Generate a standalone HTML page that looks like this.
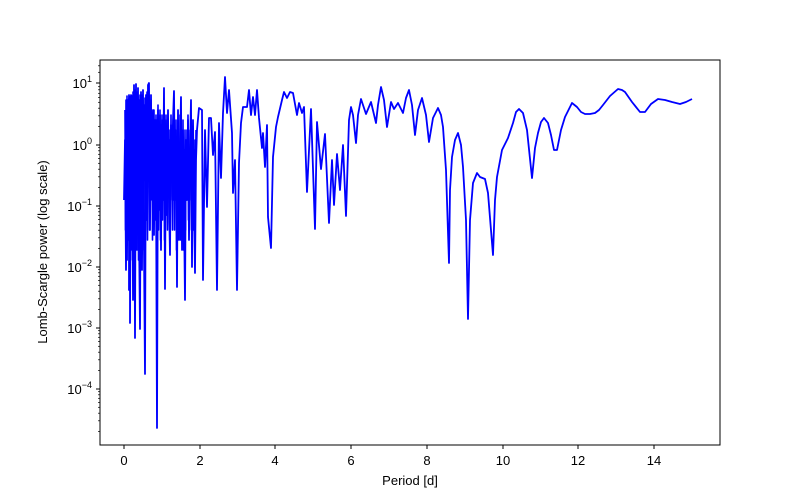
<!DOCTYPE html>
<html><head><meta charset="utf-8"><style>body{margin:0;background:#fff}svg{display:block}text{font-family:"Liberation Sans","DejaVu Sans",sans-serif;font-size:13px;fill:#000}</style></head>
<body>
<svg width="800" height="500" viewBox="0 0 800 500" xmlns="http://www.w3.org/2000/svg">
<rect width="800" height="500" fill="#fff"/>
<polyline fill="none" stroke="#0000ff" stroke-width="1.6" stroke-linejoin="round" points="
125,110 125.5,230 126,100 126.5,260 127,96 127.5,210 128,105 128.5,240 129,98 129.5,200 130,110 130.5,250 131,96 131.5,230 132,100 132.5,260 133,92 133.5,200 134,100 134.5,240 135,90 135.5,190 136,100 136.5,230 137,92 137.5,210 138,96 138.5,260 139,100 139.5,190 140,95 140.5,240 141,110 141.5,200 142,95 142.5,250 143,100 143.5,210 144,105 144.5,180 145,98 145.5,230 146,100 146.5,190 147,92 147.5,240 148,100 148.5,180 149,95 149.5,230 150,110 150.5,200 151,100 151.5,180 152,115 152.5,240 153,120 153.5,190 154,110 154.5,170 155,130 155.5,220 156,115 156.5,200 157,120 157.5,180 158,105 158.5,230 159,130 159.5,190 160,110 160.5,240 161,125 161.5,180 162,115 162.5,220 163,130 163.5,190 164,120 164.5,240 165,130 165.5,200 166,115 166.5,180 167,130 167.5,230 168,120 168.5,190 169,140 169.5,220 170,130 170.5,200 171,115 171.5,180 172,140 172.5,230 173,125 173.5,200 174,100 174.5,230 175,135 175.5,190 176,120 176.5,250 177,140 177.5,200 178,120 178.5,230 179,150 179.5,190 180,115 180.5,240 181,130 181.5,200 182,140 182.5,220 183,120 183.5,250 184,150 184.5,190 185,130 185.5,230 186,150 186.5,200 187,130 187.5,180 188,115 188.5,220 189,150 189.5,200 190,130 190.5,170 191,120 191.5,230 192,140 192.5,200 193,130 193.5,230 194,150 194.5,180 195,140 195.5,200 196,130"/>
<polyline fill="none" stroke="#0000ff" stroke-width="1.8" stroke-linejoin="round" points="
124,200 125,140 126,270 127,120 127,260 128,100 128,180 129,95 129,290 130,97 130,323 131,95 131,250 132,98 132,200 132,96 133,300 134,85 135,338 136,84 137,250 138,88 139,230 140,329 141,92 142,270 143,90 144,250 145,374 146,95 147,220 148,85 149,83 150,230 151,95 152,200 153,110 154,235 155,120 156,170 157,428 158,110 159,210 160,115 161,250 162,120 163,200 164,88 165,289 166,120 167,215 168,110 169,200 170,255 171,125 172,180 173,120 174,91 175,200 176,130 177,287 178,110 179,240 180,150 181,97 182,250 183,130 184,210 185,300 186,140 187,200 188,120 189,240 190,150 191,100 192,267 193,120 194,200 195,273 196,160 197,130
199,108 202,110 203,280 205,130 207,207 209,118 211,118 213,155 215,132 217,290 219,123 221,178 223,113 225,77 227,113 229,90 232,133 233,193 235,160 237,290 239,163 241,123 243,107 247,107 249,90 251,115 253,97 255,115 257,90 259,118 262,148 263,133 265,167 267,125 268,217 271,248 273,157 276,127 278,117 282,100 284,92 287,98 290,92 293,93 297,115 299,103 302,113 304,107
307,192 311,109 315,229 317,122 321,169 325,134 329,223 332,160 334,205 337,154 340,190 343,145 346,216 349,120 351,107 353,115 356,143 358,115 361,99 366,114 371,102 376,123 378,105 381,87 384,100 387,127 391,102 394,109 398,103 403,113 406,98 409,90 412,105 415,135 418,110 422,98 426,115 429,142 433,118 438,108 441,115 443,127 446,170 449,263 450,190 452,157 455,140 458,133 461,145 463,167 466,220 468,319 470,220 473,183 477,173 480,177 485,179 488,193 493,255 495,200 497,177 502,150 508,138 513,123 516,112 519,109 523,113 527,130 532,178 535,148 538,133 541,122 544,118 548,123 551,135 554,150 557,150 561,130 565,117 572,103 577,107 581,112 585,114 590,114 595,113 599,110 603,105 610,96 618,89 622,90 625,92 632,102 640,112 645,112 651,104 658,99 665,100 672,102 680,104 686,102 692,99"/>
<rect x="100" y="60" width="620" height="385" fill="none" stroke="#000" stroke-width="1"/>
<text x="410" y="485" text-anchor="middle">Period [d]</text>
<text transform="translate(47,252) rotate(-90)" text-anchor="middle">Lomb-Scargle power (log scale)</text>
<g text-anchor="middle">
<text x="124" y="465">0</text>
<text x="200" y="465">2</text><text x="275" y="465">4</text><text x="351" y="465">6</text><text x="427" y="465">8</text><text x="503" y="465">10</text><text x="578" y="465">12</text><text x="654" y="465">14</text>
</g>
<g stroke="#000">
<line x1="124" y1="445" x2="124" y2="449"/><line x1="200" y1="445" x2="200" y2="449"/><line x1="275" y1="445" x2="275" y2="449"/><line x1="351" y1="445" x2="351" y2="449"/><line x1="427" y1="445" x2="427" y2="449"/><line x1="503" y1="445" x2="503" y2="449"/><line x1="578" y1="445" x2="578" y2="449"/><line x1="654" y1="445" x2="654" y2="449"/>
<line x1="96" y1="83" x2="100" y2="83"/><line x1="96" y1="145" x2="100" y2="145"/><line x1="96" y1="206" x2="100" y2="206"/><line x1="96" y1="267" x2="100" y2="267"/><line x1="96" y1="328" x2="100" y2="328"/><line x1="96" y1="389" x2="100" y2="389"/>
</g>
<g stroke="#000" stroke-width="0.7">
<line x1="98" y1="126.6" x2="100" y2="126.6"/><line x1="98" y1="115.8" x2="100" y2="115.8"/><line x1="98" y1="108.2" x2="100" y2="108.2"/><line x1="98" y1="102.3" x2="100" y2="102.3"/><line x1="98" y1="97.4" x2="100" y2="97.4"/><line x1="98" y1="93.3" x2="100" y2="93.3"/><line x1="98" y1="89.8" x2="100" y2="89.8"/><line x1="98" y1="86.7" x2="100" y2="86.7"/>
<line x1="98" y1="187.6" x2="100" y2="187.6"/><line x1="98" y1="176.8" x2="100" y2="176.8"/><line x1="98" y1="169.2" x2="100" y2="169.2"/><line x1="98" y1="163.3" x2="100" y2="163.3"/><line x1="98" y1="158.4" x2="100" y2="158.4"/><line x1="98" y1="154.3" x2="100" y2="154.3"/><line x1="98" y1="150.8" x2="100" y2="150.8"/><line x1="98" y1="147.7" x2="100" y2="147.7"/>
<line x1="98" y1="248.6" x2="100" y2="248.6"/><line x1="98" y1="237.8" x2="100" y2="237.8"/><line x1="98" y1="230.2" x2="100" y2="230.2"/><line x1="98" y1="224.3" x2="100" y2="224.3"/><line x1="98" y1="219.4" x2="100" y2="219.4"/><line x1="98" y1="215.3" x2="100" y2="215.3"/><line x1="98" y1="211.8" x2="100" y2="211.8"/><line x1="98" y1="208.7" x2="100" y2="208.7"/>
<line x1="98" y1="309.6" x2="100" y2="309.6"/><line x1="98" y1="298.8" x2="100" y2="298.8"/><line x1="98" y1="291.2" x2="100" y2="291.2"/><line x1="98" y1="285.3" x2="100" y2="285.3"/><line x1="98" y1="280.4" x2="100" y2="280.4"/><line x1="98" y1="276.3" x2="100" y2="276.3"/><line x1="98" y1="272.8" x2="100" y2="272.8"/><line x1="98" y1="269.7" x2="100" y2="269.7"/>
<line x1="98" y1="370.6" x2="100" y2="370.6"/><line x1="98" y1="359.8" x2="100" y2="359.8"/><line x1="98" y1="352.2" x2="100" y2="352.2"/><line x1="98" y1="346.3" x2="100" y2="346.3"/><line x1="98" y1="341.4" x2="100" y2="341.4"/><line x1="98" y1="337.3" x2="100" y2="337.3"/><line x1="98" y1="333.8" x2="100" y2="333.8"/><line x1="98" y1="330.7" x2="100" y2="330.7"/>
<line x1="98" y1="431.6" x2="100" y2="431.6"/><line x1="98" y1="420.8" x2="100" y2="420.8"/><line x1="98" y1="413.2" x2="100" y2="413.2"/><line x1="98" y1="407.3" x2="100" y2="407.3"/><line x1="98" y1="402.4" x2="100" y2="402.4"/><line x1="98" y1="398.3" x2="100" y2="398.3"/><line x1="98" y1="394.8" x2="100" y2="394.8"/><line x1="98" y1="391.7" x2="100" y2="391.7"/>
<line x1="98" y1="72.3" x2="100" y2="72.3"/><line x1="98" y1="65.8" x2="100" y2="65.8"/>
</g>
<g text-anchor="end">
<text x="92" y="88">10<tspan dy="-6" font-size="9">1</tspan></text>
<text x="92" y="150">10<tspan dy="-6" font-size="9">0</tspan></text>
<text x="92" y="211">10<tspan dy="-6" font-size="9">−1</tspan></text>
<text x="92" y="272">10<tspan dy="-6" font-size="9">−2</tspan></text>
<text x="92" y="333">10<tspan dy="-6" font-size="9">−3</tspan></text>
<text x="92" y="394">10<tspan dy="-6" font-size="9">−4</tspan></text>
</g>
</svg>
</body></html>
